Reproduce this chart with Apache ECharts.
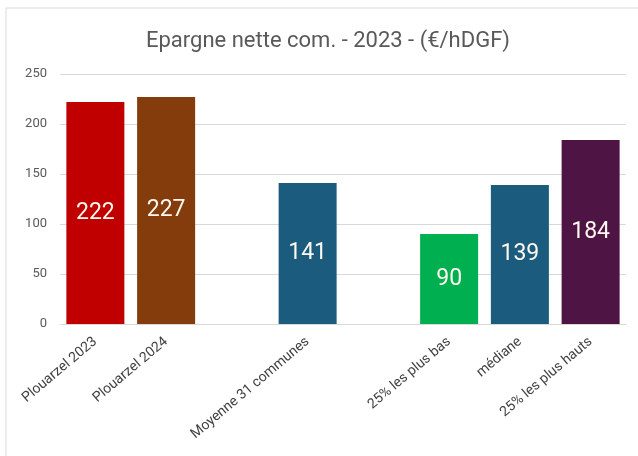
<!DOCTYPE html>
<html>
<head>
<meta charset="utf-8">
<script src="https://cdn.jsdelivr.net/npm/echarts@6/dist/echarts.min.js"></script>
<style>
html,body{margin:0;padding:0;background:#fff;}
#chart{width:638px;height:456px;}
</style>
</head>
<body>
<div id="chart"></div>
<script>
// Categories (empty strings leave gaps between the groups)
const categories = ['Plouarzel 2023', 'Plouarzel 2024', '', 'Moyenne 31 communes', '', '25% les plus bas', 'médiane', '25% les plus hauts'];
const values = [222, 227, null, 141, null, 90, 139, 184];
const barColors = ['#C00000', '#843C0C', '#ffffff', '#1A5B7E', '#ffffff', '#00B050', '#1A5B7E', '#4D1444'];
const yTicks = [0, 50, 100, 150, 200, 250];

const chart = echarts.init(document.getElementById('chart'));
chart.setOption({
  backgroundColor: '#ffffff',
  animation: false,
  title: {
    text: 'Epargne nette com. - 2023 - (€/hDGF)',
    left: 141,
    top: 25,
    textStyle: { fontFamily: 'Roboto', fontSize: 22, fontWeight: 'normal', color: '#595959' }
  },
  graphic: [{
    type: 'rect',
    shape: { x: 6, y: 8, width: 640, height: 460 },
    style: { fill: 'none', stroke: '#d9d9d9', lineWidth: 1 },
    silent: true
  }],
  grid: { left: 60, right: 12, top: 74, bottom: 132 },
  xAxis: {
    type: 'category',
    data: categories,
    axisLine: { lineStyle: { color: '#d9d9d9' } },
    axisTick: { show: false },
    axisLabel: { rotate: 40, interval: 0, margin: 16, fontFamily: 'Roboto', fontSize: 14, color: '#404040' }
  },
  yAxis: {
    type: 'value',
    min: 0,
    max: yTicks[yTicks.length - 1],
    interval: yTicks[1] - yTicks[0],
    axisLine: { show: false },
    axisTick: { show: false },
    splitLine: { lineStyle: { color: '#d9d9d9' } },
    axisLabel: { margin: 13, fontFamily: 'Roboto', fontSize: 13, color: '#595959' }
  },
  series: [{
    type: 'bar',
    barCategoryGap: '18%',
    data: values.map((v, i) => ({ value: v, itemStyle: { color: barColors[i] } })),
    label: {
      show: true,
      position: 'inside',
      fontFamily: 'Roboto',
      fontSize: 23,
      color: '#fff8ee',
      formatter: p => (p.value == null ? '' : p.value)
    }
  }]
});
</script>
</body>
</html>
